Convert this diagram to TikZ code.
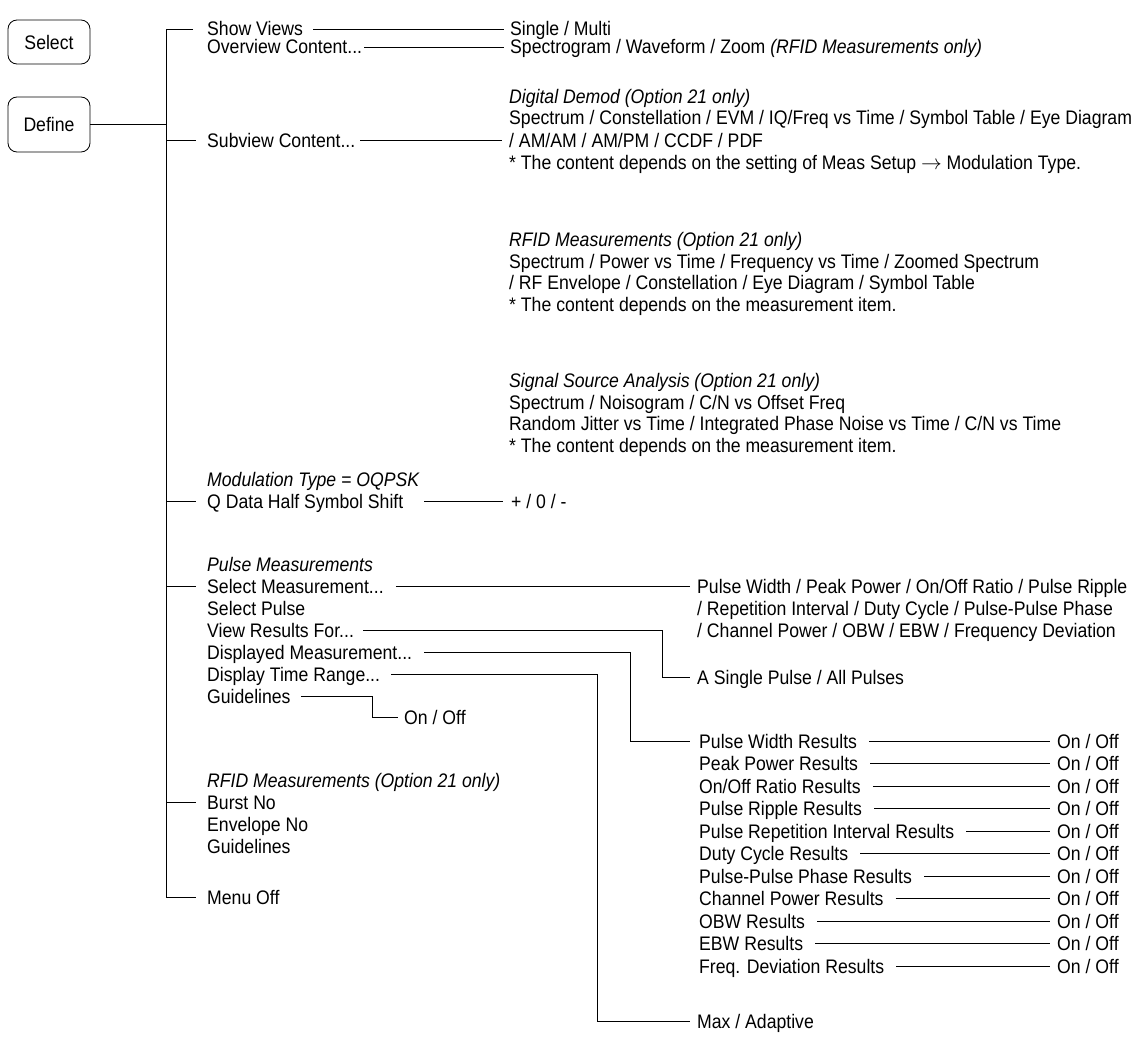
\documentclass[tikz,border=0pt]{standalone}
\usepackage{fontspec}
\setmainfont[FakeStretch=0.9]{Liberation Sans}
\usetikzlibrary{calc}
\begin{document}
\begin{tikzpicture}[x=1pt,y=1pt]
\tikzset{
  lbl/.style={anchor=west, inner xsep=0pt, inner ysep=0pt, text height=18pt, text depth=4pt, font=\fontsize{19.6}{21.5}\selectfont},
  ital/.style={lbl, font=\fontsize{19.6}{21.5}\selectfont\itshape},
  conn/.style={line width=0.85pt, line cap=butt},
  keybox/.style={draw, rounded corners=9pt, line width=0.85pt, minimum width=82pt, inner sep=0pt, font=\fontsize{19.6}{21.5}\selectfont}
}
\useasboundingbox (0,0) rectangle (1135,-1038);

% keys
\node[keybox, minimum height=44pt] (select) at (49,-42) {Select};
\node[keybox, minimum height=55pt] (define) at (49,-124.5) {Define};

% trunk x position
\coordinate (tx) at (166,0);

% left column
\node[lbl]  (showviews) at (207,-29) {Show Views};
\node[lbl]  (overview)  at (207,-47) {Overview Content...};
\node[lbl]  (subview)   at (207,-140) {Subview Content...};
\node[ital] (modtype)   at (207,-479) {Modulation Type = OQPSK};
\node[lbl]  (qdata)     at (207,-501) {Q Data Half Symbol Shift};
\node[ital] (pulsemeas) at (207,-564) {Pulse Measurements};
\node[lbl]  (selmeas)   at (207,-586) {Select Measurement...};
\node[lbl]  (selpulse)  at (207,-608) {Select Pulse};
\node[lbl]  (viewres)   at (207,-630) {View Results For...};
\node[lbl]  (dispmeas)  at (207,-652) {Displayed Measurement...};
\node[lbl]  (disptime)  at (207,-674) {Display Time Range...};
\node[lbl]  (guideA)    at (207,-696) {Guidelines};
\node[ital] (rfidB)     at (207,-780) {RFID Measurements (Option 21 only)};
\node[lbl]  (burst)     at (207,-802) {Burst No};
\node[lbl]  (envelope)  at (207,-824) {Envelope No};
\node[lbl]  (guideB)    at (207,-846) {Guidelines};
\node[lbl]  (menuoff)   at (207,-897) {Menu Off};

% right column (views)
\node[lbl]  (singlemulti) at (510,-29) {Single / Multi};
\node[lbl]  (spectro)     at (510,-47) {Spectrogram / Waveform / Zoom \textit{(RFID Measurements only)}};

\node[ital] (dd)  at (509,-97)  {Digital Demod (Option 21 only)};
\node[lbl]  (dd1) at (509,-118) {Spectrum / Constellation / EVM / IQ/Freq vs Time / Symbol Table / Eye Diagram};
\node[lbl]  (dd2) at (509,-140) {/ AM/AM / AM/PM / CCDF / PDF};
\node[lbl]  (dd3) at (509,-162) {* The content depends on the setting of Meas Setup $\rightarrow$ Modulation Type.};

\node[ital] (rf)  at (509,-239) {RFID Measurements (Option 21 only)};
\node[lbl]  (rf1) at (509,-261) {Spectrum / Power vs Time / Frequency vs Time / Zoomed Spectrum};
\node[lbl]  (rf2) at (509,-282) {/ RF Envelope / Constellation / Eye Diagram / Symbol Table};
\node[lbl]  (rf3) at (509,-304) {* The content depends on the measurement item.};

\node[ital] (ss)  at (509,-380) {Signal Source Analysis (Option 21 only)};
\node[lbl]  (ss1) at (509,-402) {Spectrum / Noisogram / C/N vs Offset Freq};
\node[lbl]  (ss2) at (509,-423) {Random Jitter vs Time / Integrated Phase Noise vs Time / C/N vs Time};
\node[lbl]  (ss3) at (509,-445) {* The content depends on the measurement item.};

\node[lbl]  (pm0) at (511,-501) {+ / 0 / -};

% pulse right column
\node[lbl] (pm1) at (697,-586) {Pulse Width / Peak Power / On/Off Ratio / Pulse Ripple};
\node[lbl] (pm2) at (697,-608) {/ Repetition Interval / Duty Cycle / Pulse-Pulse Phase};
\node[lbl] (pm3) at (697,-630) {/ Channel Power / OBW / EBW / Frequency Deviation};
\node[lbl] (allpulse) at (697,-677) {A Single Pulse / All Pulses};
\node[lbl] (onoffG) at (404,-717) {On / Off};
\node[lbl] (maxad) at (697,-1021) {Max / Adaptive};

% results
\foreach \i/\t in {0/{Pulse Width Results},1/{Peak Power Results},2/{On/Off Ratio Results},3/{Pulse Ripple Results},4/{Pulse Repetition Interval Results},5/{Duty Cycle Results},6/{Pulse-Pulse Phase Results},7/{Channel Power Results},8/{OBW Results},9/{EBW Results},10/{Freq. Deviation Results}}{
  \node[lbl] (res\i) at (699,{-741-22.5*\i}) {\t};
  \node[lbl] (oo\i) at (1057,{-741-22.5*\i}) {On / Off};
  \draw[conn] ([xshift=12pt]res\i.east) -- ([xshift=-7pt]oo\i.west);
}

% coordinates for elbow columns
\coordinate (xv) at (662,0);
\coordinate (xd) at (630,0);
\coordinate (xt) at (597,0);
\coordinate (xg) at (372,0);

% trunk
\draw[conn] ([xshift=-14pt]showviews.west) -| (menuoff.west -| tx) -- ([xshift=-11pt]menuoff.west);
\draw[conn] (define.east) -- (define.east -| tx);
\draw[conn] (subview.west -| tx) -- ([xshift=-11pt]subview.west);
\draw[conn] (qdata.west -| tx) -- ([xshift=-11pt]qdata.west);
\draw[conn] (selmeas.west -| tx) -- ([xshift=-11pt]selmeas.west);
\draw[conn] (burst.west -| tx) -- ([xshift=-11pt]burst.west);

% horizontal connectors
\draw[conn] ([xshift=10pt]showviews.east) -- ([xshift=-6pt]singlemulti.west);
\draw[conn] ([xshift=2pt]overview.east) -- ([xshift=-6pt]spectro.west);
\draw[conn] ([xshift=5pt]subview.east) -- ([xshift=-7pt]subview.east -| dd2.west);
\draw[conn] ([xshift=21pt]qdata.east) -- ([xshift=-8pt]qdata.east -| pm0.west);
\draw[conn] ([xshift=12pt]selmeas.east) -- ([xshift=-7pt]pm1.west);

% elbow connectors
\draw[conn] ([xshift=9pt]viewres.east) -- (viewres.east -| xv) |- ([xshift=-7pt]allpulse.west);
\draw[conn] ([xshift=12pt]dispmeas.east) -- (dispmeas.east -| xd) |- ([xshift=-9pt]res0.west);
\draw[conn] ([xshift=11pt]disptime.east) -- (disptime.east -| xt) |- ([xshift=-7pt]maxad.west);
\draw[conn] ([xshift=10pt]guideA.east) -- (guideA.east -| xg) |- ([xshift=-6pt]onoffG.west);
\end{tikzpicture}
\end{document}
